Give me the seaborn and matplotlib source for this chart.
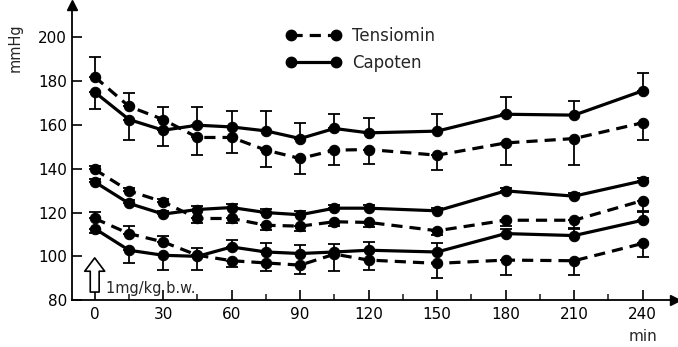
import pandas as pd
import numpy as np
import matplotlib
matplotlib.use('Agg')
import matplotlib.pyplot as plt
from matplotlib.lines import Line2D
import seaborn as sns

# time points (min)
times = [0, 15, 30, 45, 60, 75, 90, 105, 120, 150, 180, 210, 240]

# mean values (mmHg)
tens_top = [182, 168.5, 162.5, 154.3, 154.3, 148.5, 144.7, 148.5, 148.8, 146.2, 151.8, 153.8, 161]
cap_top = [175, 162.5, 157.6, 159.9, 159.1, 157.3, 153.8, 158.4, 156.4, 157.2, 164.9, 164.5, 175.6]
tens_mid = [139.7, 129.9, 124.9, 117.3, 117.3, 114.2, 113.8, 115.8, 115.5, 111.7, 116.5, 116.5, 125.5]
cap_mid = [134, 124.2, 119.3, 121.4, 122.3, 120, 119, 122, 122, 120.8, 129.9, 127.5, 134.5]
tens_low = [117.3, 110.4, 106.6, 100.5, 98, 97, 96, 101, 98.3, 96.8, 98.3, 98, 105.9]
cap_low = [112.7, 102.8, 100.5, 100, 104.3, 102, 101.3, 102, 102.8, 102, 110.4, 109.5, 116.5]

# one-sided SD bars (upper / lower)
tens_top_up = [9, 6, 5.5, 0, 0, 0, 0, 0, 0, 0, 0, 0, 0]
tens_top_dn = [0, 0, 0, 8, 7.3, 7.6, 7, 7, 6.4, 6.8, 10, 12, 8]
cap_top_up = [0, 0, 0, 8.4, 7.3, 9, 7.2, 6.8, 6.6, 8, 8, 6.5, 8]
cap_top_dn = [7.5, 9.5, 7, 0, 0, 0, 0, 0, 0, 0, 0, 0, 0]
tens_mid_up = [1.5, 1.5, 1.5, 0, 0, 0, 0, 0, 0, 0, 0, 0, 0]
tens_mid_dn = [0, 0, 0, 2, 2, 2, 2, 2, 2, 2, 2.5, 3.6, 5]
cap_mid_up = [1.5, 1.5, 1.5, 1.5, 1.5, 1.5, 1.5, 1.5, 1.5, 1.5, 1.5, 1.5, 1.5]
cap_mid_dn = [0] * 13
tens_low_up = [3, 3.4, 2.6, 3.2, 0, 0, 0, 0, 0, 0, 0, 0, 0]
tens_low_dn = [0, 0, 0, 0, 3, 3.6, 4.1, 7.6, 4.6, 6.8, 6.9, 6.6, 6]
cap_low_up = [0, 0, 0, 0, 3.1, 3.9, 3.8, 3.5, 3.8, 4.2, 2, 3, 3.8]
cap_low_dn = [2, 6, 6.8, 6.3, 0, 0, 0, 0, 0, 0, 0, 0, 0]

series = [
    ('Tensiomin', 'top', tens_top, tens_top_dn, tens_top_up),
    ('Capoten', 'top', cap_top, cap_top_dn, cap_top_up),
    ('Tensiomin', 'mid', tens_mid, tens_mid_dn, tens_mid_up),
    ('Capoten', 'mid', cap_mid, cap_mid_dn, cap_mid_up),
    ('Tensiomin', 'low', tens_low, tens_low_dn, tens_low_up),
    ('Capoten', 'low', cap_low, cap_low_dn, cap_low_up),
]

rows = []
for drug, grp, vals, dn, up in series:
    for t, v in zip(times, vals):
        rows.append({'min': t, 'mmHg': v, 'drug': drug, 'line': drug + '_' + grp})
df = pd.DataFrame(rows)

sns.set_style('ticks')
plt.rcParams['font.family'] = ['DejaVu Sans']

fig = plt.figure(figsize=(6.78, 3.47), dpi=100)
ax = fig.add_axes([0.106, 0.135, 0.889, 0.85])

dash = (3.5, 2.2)
sns.lineplot(data=df, x='min', y='mmHg', units='line', style='drug', estimator=None,
             color='black', linewidth=2.3, markers={'Tensiomin': 'o', 'Capoten': 'o'},
             dashes={'Tensiomin': dash, 'Capoten': ''}, markersize=7.5,
             markeredgecolor='black', legend=False, ax=ax, zorder=3)

for drug, grp, vals, dn, up in series:
    ax.errorbar(times, vals, yerr=[dn, up], fmt='none', ecolor='black',
                elinewidth=1.3, capsize=4, capthick=1.3, zorder=2)

ax.set_xlim(-10, 254)
ax.set_ylim(80, 214.7)
ax.set_xticks(range(0, 241, 30))
ax.set_xticks(range(15, 241, 30), minor=True)
ax.set_yticks(range(80, 201, 20))
ax.tick_params(axis='both', which='major', direction='in', length=7, width=1.2,
               labelsize=11, colors='black')
ax.tick_params(axis='x', which='minor', direction='in', length=4, width=1.2)
ax.tick_params(axis='x', pad=5)
sns.despine(ax=ax)
for s in ['left', 'bottom']:
    ax.spines[s].set_linewidth(1.3)
    ax.spines[s].set_color('black')
ax.plot(1, 0, '>k', markersize=7, transform=ax.transAxes, clip_on=False)
ax.plot(0, 1, '^k', markersize=7, transform=ax.transAxes, clip_on=False)
ax.set_xlabel('')
ax.set_ylabel('')

fig.text(0.022, 0.862, 'mmHg', rotation=90, fontsize=10.5, ha='center', va='center')
fig.text(0.949, 0.03, 'min', fontsize=11, ha='center', va='center')

# injection arrow
ax.annotate('', xy=(0, 99.3), xytext=(0, 83.7),
            arrowprops=dict(arrowstyle='simple,head_width=0.9,head_length=0.6,tail_width=0.4',
                            mutation_scale=16, fc='white', ec='black', lw=1.2,
                            shrinkA=0, shrinkB=0))
ax.text(5, 85.5, '1mg/kg b.w.', fontsize=10.5, ha='left', va='center')

handles = [Line2D([], [], color='black', lw=2.3, dashes=dash, marker='o', markersize=7.5),
           Line2D([], [], color='black', lw=2.3, marker='o', markersize=7.5)]
ax.legend(handles, ['Tensiomin', 'Capoten'], numpoints=2, handlelength=3.3,
          frameon=False, fontsize=12, loc='upper left', bbox_to_anchor=(0.33, 0.976),
          labelspacing=0.5, handletextpad=0.7)

fig.savefig('out.png', dpi=100)
